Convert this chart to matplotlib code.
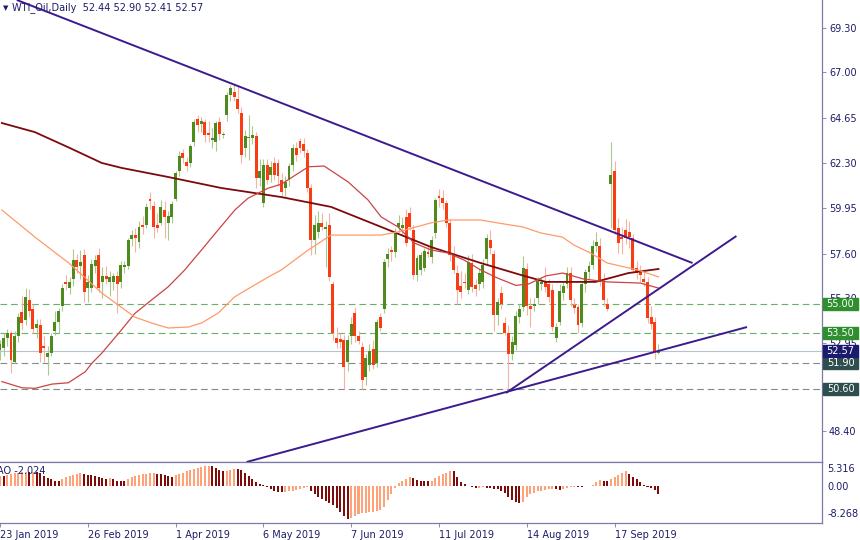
import numpy as np
import matplotlib
matplotlib.use("Agg")
import matplotlib.pyplot as plt
from matplotlib.patches import Rectangle
from matplotlib.transforms import blended_transform_factory


# Step 1: Data (bar 0 = 23 Jan 2019, one bar per weekday)

opens = [52.6, 52.7, 53.2, 53.5, 52.0, 53.3, 54.55, 54.15, 55.2, 54.7,
         53.75, 53.9, 52.8, 52.25, 52.45, 53.6, 54.05, 54.9, 56.15, 55.8,
         56.3, 57.25, 56.95, 57.5, 55.8, 55.8, 56.95, 57.5, 56.1, 56.45,
         56.15, 56.15, 56.45, 56.1, 56.9, 56.95, 58.35, 58.55, 58.2, 59.1,
         59.1, 60.45, 60.05, 59.1, 59.2, 59.85, 59.2, 59.5, 60.45, 61.9,
         62.8, 62.35, 62.3, 63.4, 64.6, 64.3, 64.4, 63.85, 63.5, 63.4,
         64.4, 63.75, 64.8, 65.8, 66.0, 65.6, 64.9, 63.1, 63.6, 63.6,
         63.7, 61.5, 60.2, 62.2, 61.7, 62.3, 62.3, 61.4, 61.0, 61.4,
         62.2, 63.1, 63.45, 63.3, 62.8, 61.0, 58.3, 58.7, 59.2, 58.85,
         59.1, 56.0, 53.2, 53.15, 53.1, 52.0, 53.3, 54.5, 53.3, 52.75,
         51.2, 51.8, 52.65, 51.9, 54.3, 54.7, 57.3, 57.8, 57.7, 59.0,
         58.9, 59.5, 59.7, 58.8, 56.5, 56.75, 56.85, 57.7, 57.4, 58.65,
         60.6, 60.5, 60.2, 59.2, 57.6, 56.6, 55.9, 56.15, 55.7, 57.1,
         55.95, 56.0, 56.1, 57.3, 58.3, 57.6, 54.4, 55.55, 54.0, 53.5,
         52.4, 52.85, 54.3, 54.85, 56.8, 54.9, 54.9, 55.3, 56.0, 56.1,
         56.0, 55.7, 53.2, 54.05, 55.55, 56.0, 56.6, 54.95, 54.85, 54.0,
         56.0, 56.65, 57.0, 58.0, 58.0, 56.1, 55.0, 61.2, 61.9, 58.9,
         58.45, 58.8, 58.7, 58.4, 56.85, 56.7, 56.3, 56.1, 54.3, 54.05,
         52.44]

highs = [53.1, 53.5, 53.7, 53.6, 53.6, 54.5, 55.4, 55.8, 55.75, 55.0,
         54.2, 54.2, 53.3, 52.8, 53.5, 54.6, 54.8, 56.0, 56.5, 56.4,
         57.85, 57.6, 57.8, 57.85, 56.5, 57.3, 57.5, 57.9, 56.9, 56.95,
         56.7, 56.6, 56.7, 57.2, 57.2, 58.4, 58.8, 58.9, 59.3, 59.55,
         60.2, 60.8, 60.3, 59.7, 60.4, 60.3, 59.8, 60.3, 61.9, 62.9,
         63.0, 62.6, 63.3, 64.6, 64.8, 64.7, 64.6, 64.5, 64.1, 64.5,
         64.7, 63.9, 66.0, 66.35, 66.4, 66.35, 65.2, 64.0, 64.8, 64.2,
         63.9, 62.5, 62.5, 62.5, 62.4, 62.6, 62.5, 61.8, 61.6, 62.3,
         63.3, 63.4, 63.6, 63.6, 63.0, 61.2, 59.6, 59.8, 59.7, 59.3,
         59.7, 56.2, 53.8, 53.5, 53.4, 53.4, 54.3, 54.85, 53.6, 53.0,
         52.4, 52.9, 53.1, 54.2, 54.5, 57.3, 57.9, 58.0, 58.9, 59.6,
         59.5, 59.9, 60.0, 59.1, 57.5, 57.7, 57.9, 58.1, 58.5, 60.5,
         60.95, 60.9, 60.4, 59.4, 58.0, 57.0, 56.7, 56.6, 57.5, 57.6,
         56.3, 56.8, 57.3, 58.6, 58.8, 57.8, 55.3, 55.9, 54.3, 53.9,
         53.3, 54.6, 55.0, 57.45, 57.1, 55.3, 55.3, 56.4, 56.4, 56.9,
         56.3, 56.0, 54.0, 56.0, 56.1, 56.9, 56.9, 55.3, 55.0, 56.2,
         56.8, 57.2, 58.3, 58.7, 58.4, 56.6, 55.3, 63.4, 62.4, 59.45,
         59.0, 59.4, 59.3, 58.6, 57.2, 57.0, 56.8, 56.4, 54.9, 54.3,
         52.90]

lows = [52.1, 52.3, 52.8, 51.4, 51.9, 53.0, 53.65, 53.9, 54.3, 53.5,
        53.2, 52.0, 52.0, 51.3, 52.3, 53.4, 53.5, 54.6, 55.7, 55.5,
        55.9, 56.6, 56.3, 55.1, 55.1, 55.6, 56.6, 55.6, 55.3, 56.0,
        55.4, 55.7, 54.5, 55.8, 56.6, 56.8, 58.0, 57.7, 57.9, 58.6,
        58.9, 59.9, 58.4, 58.7, 59.1, 58.4, 58.3, 59.2, 60.3, 61.6,
        62.3, 61.9, 62.1, 63.2, 63.9, 63.9, 63.4, 63.4, 63.1, 62.9,
        63.5, 63.6, 64.5, 65.5, 65.5, 64.9, 62.3, 62.6, 62.45, 63.3,
        61.0, 61.1, 60.0, 61.2, 61.3, 61.4, 61.1, 60.6, 60.6, 61.1,
        61.9, 62.4, 62.8, 62.6, 60.8, 57.5, 57.6, 58.4, 58.8, 56.9,
        56.2, 53.1, 52.7, 52.7, 50.6, 51.5, 52.9, 53.0, 52.9, 50.6,
        50.8, 51.5, 51.6, 51.7, 53.6, 54.5, 56.9, 57.2, 57.4, 58.7,
        58.6, 58.0, 58.8, 56.3, 56.2, 56.5, 56.7, 57.4, 57.1, 58.4,
        60.0, 59.9, 59.0, 57.2, 56.6, 55.0, 55.3, 55.8, 55.5, 55.6,
        55.4, 55.7, 55.8, 57.0, 57.6, 53.6, 53.9, 54.7, 53.4, 50.6,
        52.1, 52.6, 54.0, 54.6, 54.4, 53.8, 54.6, 55.0, 55.7, 55.6,
        55.1, 53.6, 53.0, 53.9, 55.2, 55.8, 54.9, 54.5, 53.5, 53.8,
        55.6, 56.3, 56.8, 57.7, 55.9, 54.9, 54.6, 58.9, 58.6, 57.65,
        57.6, 58.1, 57.9, 56.6, 56.3, 56.1, 55.9, 54.0, 53.7, 52.15,
        52.41]

closes = [52.9, 53.2, 53.5, 52.1, 53.3, 54.3, 54.0, 55.35, 54.6, 53.7,
          53.95, 52.45, 52.7, 52.45, 53.3, 54.05, 54.6, 55.8, 56.0, 56.1,
          57.25, 56.9, 57.15, 55.6, 56.1, 57.05, 57.25, 55.8, 56.45, 56.3,
          56.4, 56.45, 56.0, 57.0, 57.0, 58.3, 58.55, 58.4, 59.0, 59.0,
          60.0, 60.35, 59.0, 58.9, 60.0, 59.5, 59.55, 60.15, 61.8, 62.65,
          62.55, 62.15, 63.2, 64.4, 64.25, 64.5, 63.75, 63.75, 63.6, 64.35,
          63.8, 63.8, 65.8, 66.2, 65.7, 65.1, 62.7, 63.7, 63.65, 63.75,
          61.5, 61.9, 62.2, 61.4, 62.1, 61.7, 61.6, 60.8, 61.3, 62.15,
          63.1, 62.7, 63.1, 62.9, 61.0, 58.3, 59.1, 59.2, 59.0, 59.0,
          56.4, 53.5, 52.95, 53.0, 51.7, 53.1, 53.95, 53.3, 53.05, 51.05,
          52.2, 52.55, 51.8, 54.05, 53.75, 57.15, 57.6, 57.7, 58.7, 59.2,
          59.1, 58.15, 59.0, 56.5, 57.35, 57.5, 57.75, 57.6, 58.3, 60.4,
          60.5, 60.2, 59.2, 57.5, 56.75, 55.7, 55.6, 56.05, 57.15, 55.85,
          55.75, 56.6, 57.0, 58.4, 57.9, 54.4, 55.1, 55.0, 53.5, 52.4,
          53.0, 54.35, 54.7, 56.85, 54.9, 54.7, 55.0, 56.2, 56.15, 55.85,
          55.35, 53.8, 53.8, 55.65, 55.9, 56.6, 55.2, 54.8, 53.9, 56.0,
          56.65, 56.95, 58.0, 58.2, 56.1, 55.2, 54.75, 61.7, 58.8, 58.15,
          58.35, 58.4, 58.45, 56.75, 56.6, 56.5, 56.1, 54.25, 53.95, 52.5,
          52.57]

ao_values = [2.5, 2.47, 2.72, 2.96, 3.13, 3.29, 3.37, 3.54, 3.46, 3.58,
             3.46, 3.13, 2.47, 1.89, 1.65, 1.32, 1.30, 1.65, 2.14, 2.47,
             2.80, 3.05, 3.29, 2.96, 2.80, 2.63, 2.47, 2.30, 1.98, 1.81,
             1.98, 1.65, 1.32, 1.23, 1.15, 1.65, 2.14, 2.47, 2.72, 2.88,
             3.05, 3.13, 3.21, 2.96, 2.88, 2.72, 2.47, 2.30, 2.63, 2.96,
             3.29, 3.70, 3.95, 4.28, 4.53, 4.77, 4.94, 5.02, 4.94, 4.36,
             3.95, 3.79, 3.82, 3.95, 4.20, 4.12, 3.95, 3.29, 2.47, 1.81,
             0.99, 0.49, 0.16, -0.33, -0.82, -1.15, -1.40, -1.48, -1.40, -1.32,
             -1.15, -0.99, -0.82, -0.58, -0.33, -1.15, -1.98, -2.63, -3.29, -3.62,
             -4.12, -4.69, -5.51, -6.34, -7.41, -8.27, -7.98, -7.41, -6.91, -6.75,
             -6.58, -6.42, -6.34, -6.17, -5.93, -5.10, -3.46, -1.98, -0.58, 0.82,
             1.32, 1.81, 2.14, 1.98, 1.48, 1.32, 1.23, 1.15, 1.32, 1.89,
             2.47, 2.96, 3.29, 3.79, 3.62, 2.30, 1.07, 0.41, -0.05, -0.33,
             -0.41, -0.38, -0.33, -0.49, -0.58, -0.66, -0.82, -1.15, -1.81, -2.80,
             -3.46, -3.95, -4.12, -3.87, -2.63, -1.98, -1.65, -1.32, -1.15, -0.99,
             -0.82, -0.66, -0.82, -0.99, -0.82, -0.58, -0.33, -0.16, -0.25, -0.27,
             -0.08, 0.02, 0.33, 0.99, 1.48, 1.32, 1.15, 1.65, 2.30, 2.80,
             3.13, 3.62, 2.96, 2.14, 1.65, 1.07, 0.33, -0.16, -0.49, -0.99,
             -2.024]

# moving averages, read as (bar, price) points
ma_slow_bar = [0.5, 9.5, 18.8, 27.8, 33.3, 46, 60.5, 76.9, 90.5, 104.2,
               117.8, 131.4, 142.4, 149.2, 162.8, 171.8, 180]
ma_slow_val = [64.37, 63.9, 63.1, 62.3, 62.04, 61.57, 61.0, 60.53, 60.02, 58.98,
               57.94, 57.11, 56.49, 56.13, 56.13, 56.59, 56.80]

ma_mid_bar = [0.5, 6, 9.6, 14.2, 18.7, 23.3, 25.1, 27.8, 32.4, 36.9, 41.4, 46,
              50.5, 55.1, 59.6, 64.2, 67.8, 73.3, 76.9, 84.3, 88.6, 95.2, 100.6,
              104.2, 108.8, 113.2, 117.8, 122.4, 126.8, 131.4, 136, 141, 144.5,
              149.2, 153.8, 159.5, 166, 175, 180]
ma_mid_val = [50.96, 50.64, 50.61, 50.83, 50.9, 51.47, 51.91, 52.43, 53.46, 54.5,
              55.19, 55.88, 56.75, 57.79, 58.82, 59.86, 60.47, 60.99, 61.2, 62.1,
              62.14, 61.31, 60.38, 59.5, 58.98, 58.15, 57.79, 57.63, 57.27, 56.75,
              56.33, 55.95, 56.02, 56.44, 56.59, 56.28, 56.13, 56.07, 55.81]

ma_fast_bar = [0.5, 9.5, 18.8, 27.8, 36.8, 41.4, 46, 51.5, 55.1, 59.7, 64.1,
               68.7, 73.4, 76.9, 84.3, 90.5, 97.4, 104.2, 108.8, 117.8, 122.4,
               131.4, 136, 142.9, 147.8, 153.8, 156.8, 161.4, 166, 174.3, 180]
ma_fast_val = [59.86, 58.46, 57.11, 55.56, 54.31, 54.0, 53.74, 53.79, 54.0, 54.52,
               55.35, 55.87, 56.39, 56.75, 57.79, 58.56, 58.56, 58.56, 58.72, 59.19,
               59.34, 59.34, 59.19, 58.98, 58.67, 58.45, 58.05, 57.63, 57.11, 56.75,
               56.39]

# trendlines: (bar, price) at both ends
trend_lines = [((4.6, 70.75), (189.3, 57.11)),
               ((67.4, 46.79), (204.2, 53.79)),
               ((138.3, 50.37), (201.3, 58.51))]

levels = [55.00, 53.50, 51.90, 50.60]
last_price = 52.57
price_ticks = [69.30, 67.00, 64.65, 62.30, 59.95, 57.60, 55.30, 52.95, 50.70, 48.40]
ao_ticks = [5.316, 0.0, -8.268]
date_ticks = [0, 24, 48, 72, 96, 120, 144, 168]
date_labels = ["23 Jan 2019", "26 Feb 2019", "1 Apr 2019", "6 May 2019",
               "7 Jun 2019", "11 Jul 2019", "14 Aug 2019", "17 Sep 2019"]

assert len(opens) == len(highs) == len(lows) == len(closes) == len(ao_values)


# Step 2: Styling

navy = "#1c1c6a"
frame = "#7a7aa8"
green_body = "#4f8a1e"
red_body = "#f93c12"
green_wick = "#a9c98e"
red_wick = "#f6b3a4"

plt.rcParams["font.family"] = "DejaVu Sans"
plt.rcParams["font.size"] = 7

W, H = 860, 540
fig = plt.figure(figsize=(W / 100, H / 100), dpi=100)
fig.patch.set_facecolor("white")
ax = fig.add_axes([0, (H - 462) / H, 822 / W, 462 / H])
ax2 = fig.add_axes([0, (H - 523) / H, 822 / W, 61 / H], sharex=ax)


# Step 3: Candles

x = np.arange(len(closes))
o = np.array(opens)
h = np.array(highs)
l = np.array(lows)
c = np.array(closes)
up = c >= o

ax.vlines(x[up], l[up], h[up], color=green_wick, lw=0.8, zorder=2)
ax.vlines(x[~up], l[~up], h[~up], color=red_wick, lw=0.8, zorder=2)
body_low = np.minimum(o, c)
body_h = np.maximum(np.abs(c - o), 0.06)
ax.bar(x[up], body_h[up], bottom=body_low[up], width=0.8, color=green_body,
       linewidth=0, zorder=3)
ax.bar(x[~up], body_h[~up], bottom=body_low[~up], width=0.8, color=red_body,
       linewidth=0, zorder=3)

# moving averages
ax.plot(ma_slow_bar, ma_slow_val, color="#7d0a0a", lw=1.3, zorder=4)
ax.plot(ma_mid_bar, ma_mid_val, color="#cc4444", lw=0.9, zorder=4)
ax.plot(ma_fast_bar, ma_fast_val, color="#ff9a6a", lw=0.9, zorder=4)

# levels
for lv in levels:
    col = "#66b266" if lv > last_price else "#7f8c8c"
    ax.axhline(lv, color=col, lw=0.8, dashes=(6, 3.5), zorder=1)
ax.axhline(last_price, color="#b6c2cc", lw=0.8, zorder=1)

# trendlines
for (b0, p0), (b1, p1) in trend_lines:
    ax.plot([b0, b1], [p0, p1], color="#3d1a8e", lw=1.4, zorder=5,
            solid_capstyle="butt")

ax.set_xlim(0.55, 224.7)
ax.set_ylim(46.79, 70.75)

ax.yaxis.tick_right()
ax.set_yticks(price_ticks)
ax.set_yticklabels(["%.2f" % t for t in price_ticks])
ax.tick_params(axis="y", length=3, width=0.6, color=frame, labelcolor=navy,
               pad=2, labelsize=7)
ax.tick_params(axis="x", bottom=False, labelbottom=False)
for side in ["top", "left"]:
    ax.spines[side].set_visible(False)
for side in ["right", "bottom"]:
    ax.spines[side].set_color(frame)
    ax.spines[side].set_linewidth(0.9)

# price boxes on the right scale
tr = blended_transform_factory(ax.transAxes, ax.transData)
box_h = 12 / 19.28
for lv, col in zip(levels + [last_price],
                   ["#2f8f2f", "#2f8f2f", "#2f4f4f", "#2f4f4f", "#1a1a6e"]):
    ax.add_patch(Rectangle((1 + 1 / 822, lv - box_h / 2), 35 / 822, box_h,
                           transform=tr, color=col, clip_on=False, zorder=6))
    ax.text(1 + 18.5 / 822, lv, "%.2f" % lv, transform=tr, color="white",
            ha="center", va="center", fontsize=7, clip_on=False, zorder=7)

fig.text(3 / W, 1 - 8 / H, "\u25bc", color=navy, fontsize=5, va="center")
fig.text(12 / W, 1 - 8 / H, "WTI_Oil,Daily  52.44 52.90 52.41 52.57",
         color=navy, fontsize=7, va="center")


# Step 4: Awesome Oscillator panel

ao = np.array(ao_values)
rising = np.r_[True, ao[1:] >= ao[:-1]]
ao_cols = np.where(rising, "#ffa27a", "#7f0a0a")
ax2.bar(x, ao, width=0.55, color=ao_cols, linewidth=0)
ax2.set_ylim(-9.14, 5.93)

ax2.yaxis.tick_right()
ax2.set_yticks(ao_ticks)
ax2.set_yticklabels(["5.316", "0.00", "-8.268"])
labels = ax2.get_yticklabels()
labels[0].set_va("top")
labels[2].set_va("bottom")
ax2.tick_params(axis="y", length=0, labelcolor=navy, pad=4, labelsize=7)

ax2.set_xticks(date_ticks)
ax2.set_xticklabels(date_labels)
plt.setp(ax2.get_xticklabels(), ha="left")
ax2.tick_params(axis="x", length=3, width=0.6, color=frame, labelcolor=navy,
                pad=2, labelsize=7)
ax2.spines["left"].set_visible(False)
for side in ["top", "right", "bottom"]:
    ax2.spines[side].set_color(frame)
    ax2.spines[side].set_linewidth(0.9)

ax2.text(-3 / 822, 1 - 9 / 61, "AO -2.024", transform=ax2.transAxes,
         color=navy, fontsize=7, va="center")

fig.savefig("out.png", dpi=100)
